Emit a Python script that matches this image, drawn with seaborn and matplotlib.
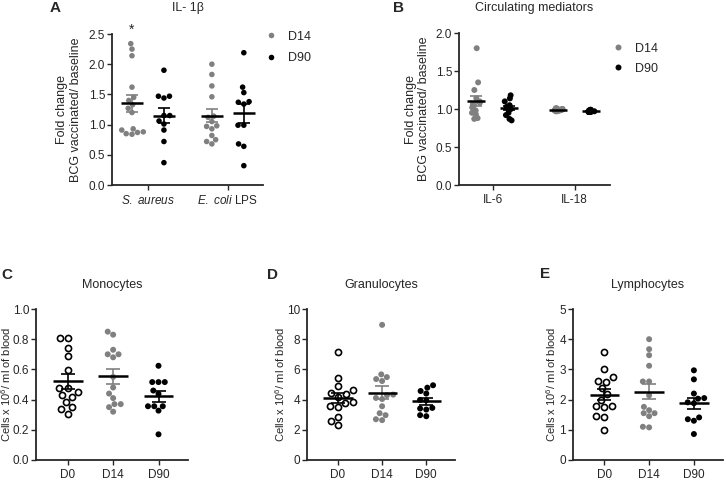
import numpy as np
import pandas as pd
import matplotlib
matplotlib.use("Agg")
import matplotlib.pyplot as plt
from matplotlib.ticker import FormatStrFormatter
import seaborn as sns

# Panel A: IL-1b fold change (BCG vaccinated / baseline)
a_saureus_d14 = [2.34, 2.25, 2.14, 1.62, 1.45, 1.40, 1.33, 1.27, 1.20, 0.93, 0.91, 0.88, 0.87, 0.85, 0.84]
a_saureus_d90 = [1.90, 1.47, 1.47, 1.44, 1.15, 1.15, 1.06, 1.01, 0.91, 0.72, 0.37]
a_ecoli_d14 = [2.00, 1.83, 1.64, 1.46, 1.14, 1.12, 1.05, 0.98, 0.97, 0.93, 0.82, 0.75, 0.72, 0.68]
a_ecoli_d90 = [2.19, 1.62, 1.53, 1.38, 1.37, 1.34, 0.99, 0.99, 0.68, 0.64, 0.32]

# Panel B: circulating mediators fold change
b_il6_d14 = [1.80, 1.35, 1.25, 1.14, 1.10, 1.08, 1.06, 1.04, 1.02, 0.98, 0.95, 0.93, 0.88, 0.87]
b_il6_d90 = [1.18, 1.14, 1.10, 1.05, 1.03, 1.02, 1.01, 1.00, 0.95, 0.92, 0.87, 0.85]
b_il18_d14 = [1.01, 1.01, 1.00, 1.00, 1.00, 0.99, 0.99, 0.99, 0.99, 0.98, 0.98, 0.98, 0.97, 0.97]
b_il18_d90 = [0.99, 0.99, 0.98, 0.98, 0.98, 0.97, 0.97, 0.97, 0.96, 0.96, 0.96]

# Panels C-E: cells x 10^6 / ml of blood
mono_d0 = [0.81, 0.81, 0.744, 0.687, 0.598, 0.478, 0.478, 0.451, 0.43, 0.416, 0.384, 0.351, 0.34, 0.307]
mono_d14 = [0.85, 0.83, 0.73, 0.70, 0.70, 0.68, 0.55, 0.48, 0.44, 0.41, 0.37, 0.37, 0.35, 0.32]
mono_d90 = [0.624, 0.516, 0.516, 0.516, 0.46, 0.438, 0.356, 0.356, 0.356, 0.327, 0.17]

gran_d0 = [7.14, 5.43, 4.90, 4.62, 4.44, 4.35, 4.18, 3.87, 3.80, 3.60, 3.52, 2.86, 2.57, 2.29]
gran_d14 = [8.95, 5.67, 5.49, 5.36, 5.23, 4.33, 4.29, 4.11, 4.04, 3.56, 3.10, 2.97, 2.70, 2.64]
gran_d90 = [4.95, 4.79, 4.57, 4.40, 3.98, 3.95, 3.45, 3.41, 3.34, 2.97, 2.90]

lymph_d0 = [3.58, 3.02, 2.74, 2.60, 2.58, 2.37, 2.18, 2.00, 1.80, 1.80, 1.76, 1.47, 1.42, 1.00]
lymph_d14 = [4.00, 3.67, 3.47, 3.12, 2.60, 2.60, 2.14, 1.76, 1.65, 1.55, 1.55, 1.45, 1.08, 1.10]
lymph_d90 = [2.97, 2.67, 2.20, 2.03, 2.05, 1.91, 1.88, 1.41, 1.30, 1.35, 0.86]

days_ab = ["D14", "D90"]
days_cde = ["D0", "D14", "D90"]
stims = ["S. aureus", "E. coli LPS"]
mediators = ["IL-6", "IL-18"]
GRAY = "#808080"
day_colors = {"D0": "black", "D14": GRAY, "D90": "black"}


def long_df(groups):
    frames = []
    for (cat, day), vals in groups.items():
        frames.append(pd.DataFrame({"cat": cat, "day": day, "value": vals}))
    return pd.concat(frames, ignore_index=True)


def mean_sem(ax, df, cats, days, offsets, half_w, cap):
    # mean line (black) with SEM whiskers in the group colour
    stats = df.groupby(["cat", "day"])["value"].agg(["mean", "sem"])
    for i, cat in enumerate(cats):
        for day, off in zip(days, offsets):
            if (cat, day) not in stats.index:
                continue
            m, s = stats.loc[(cat, day)]
            x = i + off
            ax.errorbar(x, m, yerr=s, fmt="none", ecolor=day_colors[day],
                        elinewidth=1.2, capsize=cap, capthick=1.2, zorder=4)
            ax.hlines(m, x - half_w, x + half_w, color="black", lw=1.8, zorder=5)


def style_axis(ax):
    sns.despine(ax=ax)
    for sp in ["left", "bottom"]:
        ax.spines[sp].set_linewidth(1.3)
    ax.tick_params(width=1.0, length=3.5, labelsize=8.5, pad=1.5)
    ax.tick_params(axis="x", pad=3)
    ax.set_xlabel("")


sns.set_style("ticks")
plt.rcParams["font.family"] = ["Liberation Sans", "DejaVu Sans"]
plt.rcParams["mathtext.fontset"] = "custom"
plt.rcParams["mathtext.rm"] = "Liberation Sans"
plt.rcParams["mathtext.it"] = "Liberation Sans:italic"

fig = plt.figure(figsize=(7.26, 4.8), dpi=100)
W, H = 726, 480


def add_ax(l, r, t, b):
    return fig.add_axes([l / W, 1 - b / H, (r - l) / W, (b - t) / H])


# ---- A ----
ax = add_ax(112, 263, 34, 185)
df_a = long_df({("S. aureus", "D14"): a_saureus_d14, ("S. aureus", "D90"): a_saureus_d90,
                ("E. coli LPS", "D14"): a_ecoli_d14, ("E. coli LPS", "D90"): a_ecoli_d90})
sns.swarmplot(data=df_a, x="cat", y="value", hue="day", order=stims, hue_order=days_ab,
              palette=[GRAY, "black"], dodge=True, size=4.0, linewidth=0, ax=ax, zorder=3,
              warn_thresh=1)
mean_sem(ax, df_a, stims, days_ab, [-0.2, 0.2], 0.135, 4.3)
ax.set_xlim(-0.45, 1.44)
ax.set_ylim(0, 2.5)
ax.set_yticks(np.arange(0, 2.51, 0.5))
ax.yaxis.set_major_formatter(FormatStrFormatter("%.1f"))
ax.set_xticks([0, 1])
ax.set_xticklabels([r"$\it{S.\ aureus}$", r"$\it{E.\ coli}$ LPS"])
style_axis(ax)
ax.set_ylabel("Fold change\nBCG vaccinated/ baseline", fontsize=9, linespacing=1.15)
ax.yaxis.set_label_coords(-0.2, 0.5)
ax.text(-0.2, 2.57, "*", ha="center", va="center", fontsize=10, clip_on=False)
sns.move_legend(ax, "upper left", bbox_to_anchor=(0.94, 1.096), frameon=False, title=None,
                handlelength=1.0, handletextpad=0.8, labelspacing=0.75, fontsize=9)

# ---- B ----
np.random.seed(3)
ax = add_ax(459, 610, 33, 185)
df_b = long_df({("IL-6", "D14"): b_il6_d14, ("IL-6", "D90"): b_il6_d90,
                ("IL-18", "D14"): b_il18_d14, ("IL-18", "D90"): b_il18_d90})
sns.stripplot(data=df_b, x="cat", y="value", hue="day", order=mediators, hue_order=days_ab,
              palette=[GRAY, "black"], dodge=True, jitter=0.11, size=4.3, linewidth=0, ax=ax, zorder=3)
mean_sem(ax, df_b, mediators, days_ab, [-0.2, 0.2], 0.11, 4.0)
ax.set_xlim(-0.41, 1.43)
ax.set_ylim(0, 2.0)
ax.set_yticks(np.arange(0, 2.01, 0.5))
ax.yaxis.set_major_formatter(FormatStrFormatter("%.1f"))
style_axis(ax)
ax.set_ylabel("Fold change\nBCG vaccinated/ baseline", fontsize=9, linespacing=1.15)
ax.yaxis.set_label_coords(-0.19, 0.5)
sns.move_legend(ax, "upper left", bbox_to_anchor=(0.94, 1.01), frameon=False, title=None,
                handlelength=1.0, handletextpad=0.8, labelspacing=0.65, fontsize=9)

# ---- C, D, E ----
cell_panels = [
    ("Monocytes", mono_d0, mono_d14, mono_d90, (36, 188), 1.0, 0.2, "%.1f", -0.152),
    ("Granulocytes", gran_d0, gran_d14, gran_d90, (307, 455), 10, 2, "%d", -0.135),
    ("Lymphocytes", lymph_d0, lymph_d14, lymph_d90, (573, 723), 5, 1, "%d", -0.1),
]
for title, v0, v14, v90, (l, r), ymax, step, fmt, lab_x in cell_panels:
    ax = add_ax(l, r, 309, 460)
    df_c = long_df({("cells", "D0"): v0, ("cells", "D14"): v14, ("cells", "D90"): v90})
    df_c["cat"] = df_c["day"]
    filled = df_c[df_c["day"] != "D0"]
    sns.swarmplot(data=df_c[df_c["day"] == "D0"], x="day", y="value", order=days_cde,
                  color="white", edgecolor="black", linewidth=1.2, size=4.4, ax=ax, zorder=3)
    sns.swarmplot(data=filled, x="day", y="value", order=days_cde, hue="day",
                  palette={"D14": GRAY, "D90": "black"}, size=4.3, linewidth=0,
                  legend=False, ax=ax, zorder=3)
    mean_sem(ax, df_c, days_cde, ["D0", "D14", "D90"], [0, 0, 0], 0.33, 5.0)
    ax.set_xlim(-0.7, 2.65)
    ax.set_ylim(0, ymax)
    ax.set_yticks(np.arange(0, ymax + step / 2, step))
    ax.yaxis.set_major_formatter(FormatStrFormatter(fmt))
    style_axis(ax)
    ax.set_ylabel(r"Cells x 10$^6$/ ml of blood", fontsize=8)
    ax.yaxis.set_label_coords(lab_x, 0.5)
    fig.text((l + r) / 2 / W, 1 - 285 / H, title, ha="center", va="center", fontsize=9)

# titles and panel letters
fig.text(188 / W, 1 - 8 / H, "IL- 1β", ha="center", va="center", fontsize=9)
fig.text(534 / W, 1 - 8 / H, "Circulating mediators", ha="center", va="center", fontsize=9)
for letter, x, y in [("A", 55, 8), ("B", 399, 8), ("C", 7, 275), ("D", 273, 275), ("E", 545, 274)]:
    fig.text(x / W, 1 - y / H, letter, ha="center", va="center", fontsize=11, fontweight="bold")

fig.savefig("out.png", dpi=100)
